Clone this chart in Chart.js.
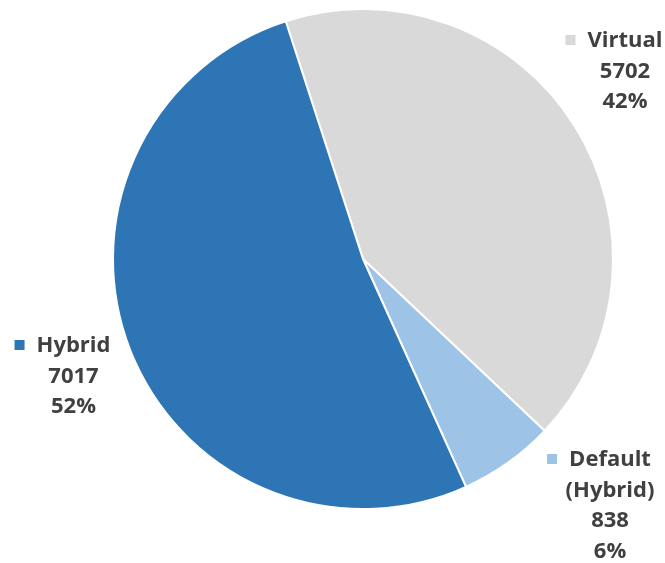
<!DOCTYPE html>
<html lang="en">
<head>
    <meta charset="UTF-8">
    <title>Pie chart</title>
    <style>
        body {
            margin: 0;
            padding: 0;
            background: #fff;
            overflow: hidden;
        }

        .wrap {
            width: 665px;
            height: 563px;
        }
    </style>
</head>
<body>
    <div class="wrap">
        <canvas id="pie" width="665" height="563"></canvas>
    </div>

    <script src="https://cdn.jsdelivr.net/npm/chart.js"></script>
    <script>
        // data
        const categories = ['Virtual', 'Default (Hybrid)', 'Hybrid'];
        const values = [5702, 838, 7017];
        const percentLabels = ['42%', '6%', '52%'];
        const sliceColors = ['#D9D9D9', '#9DC3E6', '#2E75B6'];

        // where each label block sits, as offset from the pie centre (text centre x, first baseline)
        const labelOffsets = [
            { dx: 262, dy: -212, lines: ['Virtual'] },
            { dx: 247, dy: 207, lines: ['Default', '(Hybrid)'] },
            { dx: -289.5, dy: 93, lines: ['Hybrid'] }
        ];

        const labelFont = 'bold 22px "Open Sans", sans-serif';
        const lineHeight = 30.5;

        const outsideLabels = {
            id: 'outsideLabels',
            afterDatasetsDraw(chart) {
                const ctx = chart.ctx;
                const meta = chart.getDatasetMeta(0);
                ctx.save();
                ctx.font = labelFont;
                ctx.fillStyle = '#404040';
                ctx.textAlign = 'center';
                ctx.textBaseline = 'alphabetic';
                meta.data.forEach((arc, i) => {
                    const pos = labelOffsets[i];
                    const x = arc.x + pos.dx;
                    let y = arc.y + pos.dy;
                    const lines = pos.lines.concat([String(values[i]), percentLabels[i]]);

                    // legend key in front of the first line
                    const w = ctx.measureText(lines[0]).width;
                    ctx.fillStyle = sliceColors[i];
                    ctx.fillRect(x - w / 2 - 22, y - 12, 10, 10);
                    ctx.fillStyle = '#404040';

                    lines.forEach(line => {
                        ctx.fillText(line, x, y);
                        y += lineHeight;
                    });
                });
                ctx.restore();
            }
        };

        const ctx = document.getElementById('pie').getContext('2d');
        new Chart(ctx, {
            type: 'pie',
            data: {
                labels: categories,
                datasets: [{
                    data: values,
                    backgroundColor: sliceColors,
                    borderColor: '#ffffff',
                    borderWidth: 2
                }]
            },
            options: {
                responsive: false,
                animation: false,
                rotation: -18,
                layout: {
                    padding: { left: 112, right: 51, top: 8, bottom: 53 }
                },
                plugins: {
                    legend: { display: false },
                    tooltip: { enabled: false }
                }
            },
            plugins: [outsideLabels]
        });
    </script>
</body>
</html>
